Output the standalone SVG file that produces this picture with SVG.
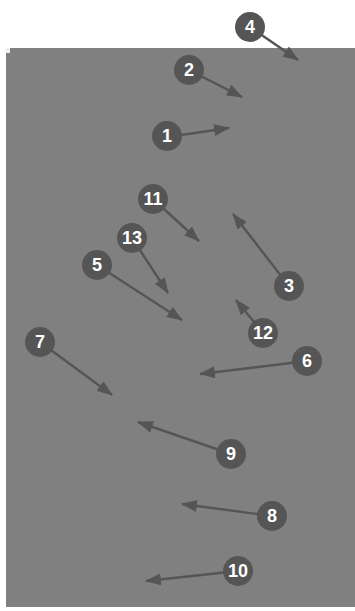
<svg xmlns="http://www.w3.org/2000/svg" width="355" height="611" viewBox="0 0 355 611">
<defs>
<marker id="ah" markerUnits="userSpaceOnUse" markerWidth="16" markerHeight="12" refX="15" refY="6" orient="auto">
<path d="M0,0 L16,6 L0,12 z" fill="#555555"/>
</marker>
<style>
.c line{stroke:#555555;stroke-width:2.4;marker-end:url(#ah)}
.n circle{fill:#555555}
.n text{fill:#ffffff;font-family:"Liberation Sans",Arial,sans-serif;font-weight:bold;font-size:18px;text-anchor:middle;dominant-baseline:central}
</style>
</defs>
<rect x="6" y="48" width="349" height="559" fill="#808080"/>
<rect x="6" y="48" width="4" height="5" fill="#eeeeee"/>
<g id="connectors" class="c">
<line x1="250" y1="27" x2="298" y2="60"/>
<line x1="189" y1="70" x2="242" y2="97"/>
<line x1="167" y1="137" x2="229" y2="128"/>
<line x1="153" y1="199" x2="199" y2="241"/>
<line x1="132" y1="238" x2="168" y2="293"/>
<line x1="97" y1="265" x2="182" y2="320"/>
<line x1="289" y1="286" x2="233" y2="214"/>
<line x1="263" y1="333" x2="236" y2="300"/>
<line x1="40" y1="342" x2="112" y2="395"/>
<line x1="307" y1="361" x2="200" y2="374"/>
<line x1="231" y1="454" x2="138" y2="422"/>
<line x1="272" y1="516" x2="182" y2="504"/>
<line x1="238" y1="571" x2="146" y2="581"/>
</g>
<g id="n4" class="n"><circle cx="250" cy="27" r="15"/><text x="250" y="27">4</text></g>
<g id="n2" class="n"><circle cx="189" cy="70" r="15"/><text x="189" y="70">2</text></g>
<g id="n1" class="n"><circle cx="167" cy="136" r="15"/><text x="167" y="136">1</text></g>
<g id="n11" class="n"><circle cx="153" cy="199" r="15"/><text x="153" y="199">11</text></g>
<g id="n13" class="n"><circle cx="132" cy="238" r="15"/><text x="132" y="238">13</text></g>
<g id="n5" class="n"><circle cx="97" cy="265" r="15"/><text x="97" y="265">5</text></g>
<g id="n3" class="n"><circle cx="289" cy="286" r="15"/><text x="289" y="286">3</text></g>
<g id="n12" class="n"><circle cx="263" cy="333" r="15"/><text x="263" y="333">12</text></g>
<g id="n7" class="n"><circle cx="40" cy="342" r="15"/><text x="40" y="342">7</text></g>
<g id="n6" class="n"><circle cx="307" cy="361" r="15"/><text x="307" y="361">6</text></g>
<g id="n9" class="n"><circle cx="231" cy="454" r="15"/><text x="231" y="454">9</text></g>
<g id="n8" class="n"><circle cx="272" cy="516" r="15"/><text x="272" y="516">8</text></g>
<g id="n10" class="n"><circle cx="238" cy="571" r="15"/><text x="238" y="571">10</text></g>
</svg>
